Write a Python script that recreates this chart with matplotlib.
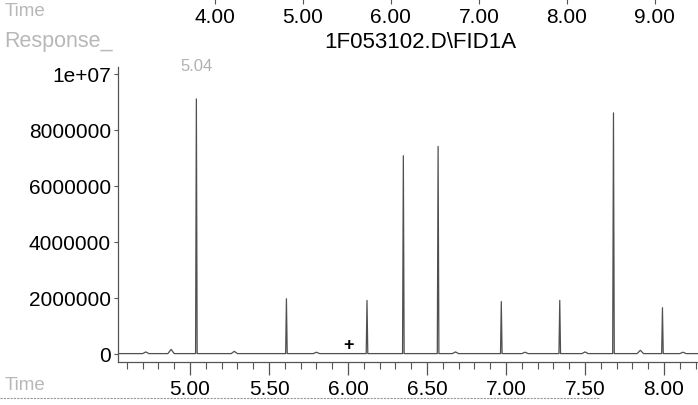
import matplotlib
matplotlib.use("Agg")
import matplotlib.pyplot as plt
from matplotlib.lines import Line2D
from matplotlib.ticker import MultipleLocator, FormatStrFormatter

plt.rcParams['font.family'] = ['Liberation Sans', 'DejaVu Sans']

# ---- data ----
peak_times = [5.04, 5.61, 6.12, 6.35, 6.57, 6.97, 7.34, 7.68, 7.99]
peak_heights = [9.1e6, 1.96e6, 1.9e6, 7.07e6, 7.4e6, 1.86e6, 1.9e6, 8.6e6, 1.64e6]
minor_times = [4.72, 4.88, 5.28, 5.80, 6.68, 7.12, 7.50, 7.85, 8.12]
minor_heights = [0.06e6, 0.15e6, 0.08e6, 0.05e6, 0.06e6, 0.05e6, 0.06e6, 0.12e6, 0.05e6]
labelled_peak = ("5.04", 5.04, 9.1e6)
x_ticks = [5.00, 5.50, 6.00, 6.50, 7.00, 7.50, 8.00]
y_ticks = [0, 2000000, 4000000, 6000000, 8000000, 10000000]
y_ticklabels = ["0", "2000000", "4000000", "6000000", "8000000", "1e+07"]
top_ticks = [4.00, 5.00, 6.00, 7.00, 8.00, 9.00]
title = "1F053102.D\\FID1A"
plus_mark = (6.00, 0.32e6)

W, H = 698, 406
fig = plt.figure(figsize=(W / 100, H / 100), dpi=100)
fig.patch.set_facecolor('white')

def fx(px):
    return px / W

def fy(py):
    return 1 - py / H

# main axes
ax = fig.add_axes([fx(118), fy(363), fx(698) - fx(118), fy(68) - fy(363)])
ax.set_xlim(4.544, 8.215)
ax.set_ylim(-0.3e6, 10.24e6)

# build trace from peak lists
events = sorted([(t, h, 0.005) for t, h in zip(peak_times, peak_heights)] +
                [(t, h, 0.02) for t, h in zip(minor_times, minor_heights)])
xs = [4.544]
ys = [0.0]
for t, h, w in events:
    xs += [t - w, t, t + w]
    ys += [0.0, h, 0.0]
xs.append(8.215)
ys.append(0.0)
ax.plot(xs, ys, color='#505050', lw=0.9)

ax.annotate(labelled_peak[0], xy=(labelled_peak[1], labelled_peak[2]),
            xytext=(0, 26), textcoords='offset pixels', ha='center', va='bottom',
            color='#b0b0b0', fontsize=12)
ax.text(plus_mark[0], plus_mark[1], "+", ha='center', va='center',
        fontsize=13, fontweight='bold', color='black')

for s in ['top', 'right']:
    ax.spines[s].set_visible(False)
ax.spines['left'].set_color('#555555')
ax.spines['bottom'].set_color('#555555')
ax.spines['left'].set_linewidth(0.9)
ax.spines['bottom'].set_linewidth(0.9)

ax.set_xticks(x_ticks)
ax.xaxis.set_major_formatter(FormatStrFormatter('%.2f'))
ax.xaxis.set_minor_locator(MultipleLocator(0.1))
ax.tick_params(axis='x', which='major', direction='out', length=9, width=0.9,
               color='#555555', labelsize=15, pad=3)
ax.tick_params(axis='x', which='minor', direction='out', length=5, width=0.8,
               color='#555555')
ax.set_yticks(y_ticks)
ax.set_yticklabels(y_ticklabels)
ax.tick_params(axis='y', direction='out', length=3, width=0.8, color='#555555',
               labelsize=15, pad=2)

# top (residual) time axis from scan
axt = fig.add_axes([0, fy(5), 1, fy(0) - fy(5)])
axt.set_xlim(1.557, 9.49)
axt.set_ylim(0, 1)
axt.patch.set_alpha(0)
for s in axt.spines.values():
    s.set_visible(False)
axt.set_yticks([])
axt.set_xticks(top_ticks)
axt.xaxis.set_major_formatter(FormatStrFormatter('%.2f'))
axt.tick_params(axis='x', direction='in', length=5, width=0.8, color='#555555',
                labelsize=15, pad=2)

# figure texts
fig.text(fx(5), fy(12), "Time", color='#b8b8b8', fontsize=13.5, va='center', ha='left')
fig.text(fx(4), fy(42), "Response_", color='#b8b8b8', fontsize=15.5, va='center', ha='left')
fig.text(fx(420), fy(42), title, color='black', fontsize=16, va='center', ha='center')
fig.text(fx(5), fy(386), "Time", color='#b8b8b8', fontsize=13.5, va='center', ha='left')
fig.add_artist(Line2D([0, fx(600)], [fy(399), fy(399)], transform=fig.transFigure,
                      color='#999999', lw=0.8, ls=(0, (2, 1))))

fig.savefig("out.png", dpi=100, facecolor='white')
